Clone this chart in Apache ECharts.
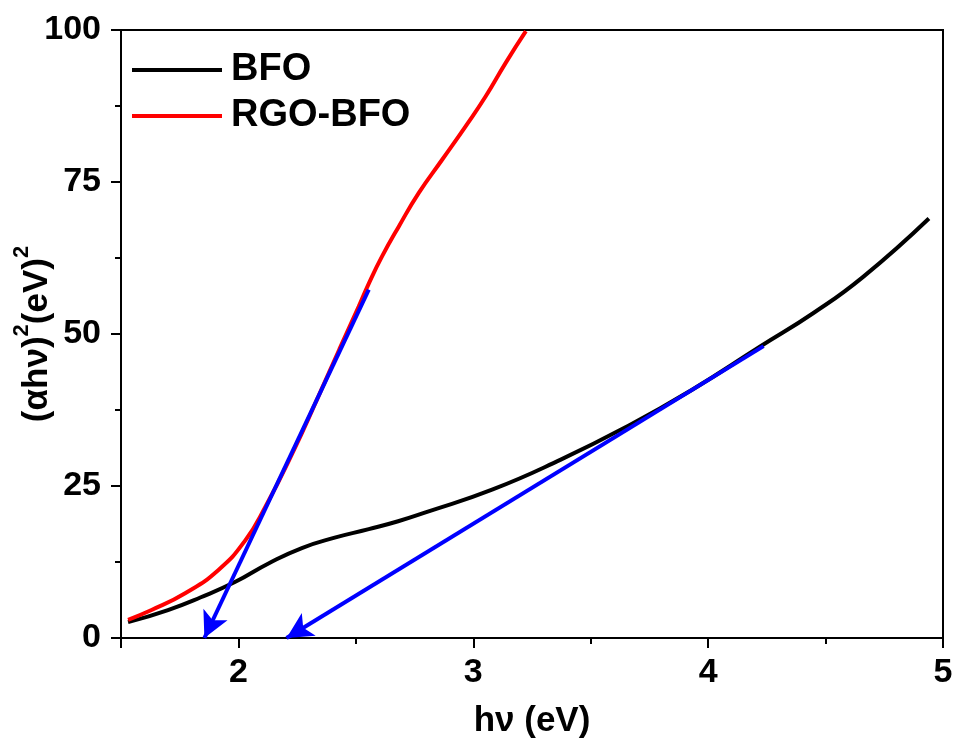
<!DOCTYPE html>
<html>
<head>
<meta charset="utf-8">
<script src="https://cdn.jsdelivr.net/npm/echarts@6/dist/echarts.min.js"></script>
<style>html,body{margin:0;padding:0;background:#fff}#c{width:957px;height:740px}</style>
</head>
<body>
<div id="c"></div>
<script>
// ---- data ----
const bfoX = [1.53, 1.70, 1.84, 1.985, 2.13, 2.27, 2.41, 2.555, 2.68, 2.80, 3.08, 3.37, 3.65, 3.93, 4.22, 4.45, 4.66, 4.94];
const bfoY = [2.6, 4.6, 6.7, 9.2, 12.3, 14.8, 16.5, 17.9, 19.2, 20.7, 24.4, 29.3, 34.7, 40.8, 47.9, 53.5, 59.4, 69.0];
const rgoX = [1.53, 1.63, 1.775, 1.915, 2.03, 2.115, 2.23, 2.34, 2.43, 2.512, 2.555, 2.612, 2.683, 2.768, 2.868, 2.968, 3.053, 3.138, 3.224];
const rgoY = [3.0, 4.6, 7.4, 11.2, 16.1, 21.6, 30.4, 39.7, 47.5, 54.5, 58.3, 62.8, 67.7, 73.2, 78.7, 84.2, 89.1, 94.6, 99.8];
// tangent arrows: [startX, startY, endX(tip), endY]
const arrowRGO = [2.555, 57.3, 1.855, 0];
const arrowBFO = [4.236, 48.0, 2.205, 0];
const seriesNames = ['BFO', 'RGO-BFO'];
const xTitle = 'hν (eV)';
const yTitleParts = ['(αhν)', '2', '(eV)', '2'];

const zip = (xs, ys) => xs.map((x, i) => [x, ys[i]]);
const font = 'Arial, "Liberation Sans", sans-serif';

const chart = echarts.init(document.getElementById('c'), null, {renderer: 'canvas'});
const common = {min: 1.5, max: 5, type: 'value', splitLine: {show: false}};
chart.setOption({
  animation: false,
  backgroundColor: '#fff',
  grid: {left: 121, right: 14, top: 30, bottom: 102, containLabel: false, outerBoundsMode: 'none',
    show: true, borderColor: '#000', borderWidth: 2, backgroundColor: 'transparent'},
  legend: {
    orient: 'vertical', left: 127, top: 46, itemWidth: 90, itemHeight: 4, itemGap: 8,
    icon: 'rect',
    data: seriesNames,
    textStyle: {fontFamily: font, fontWeight: 'bold', fontSize: 38, color: '#000', padding: [0, 0, 0, 4]}
  },
  xAxis: [
    Object.assign({}, common, {
      position: 'bottom', minInterval: 1, maxInterval: 1,
      name: xTitle, nameLocation: 'middle', nameGap: 66, nameMoveOverlap: false,
      nameTextStyle: {fontFamily: font, fontWeight: 'bold', fontSize: 35, color: '#000'},
      axisLine: {lineStyle: {color: '#000', width: 2}},
      axisTick: {inside: false, length: 10, lineStyle: {color: '#000', width: 2}},
      axisLabel: {margin: 18, fontFamily: font, fontWeight: 'bold', fontSize: 34, color: '#000',
        formatter: v => Number.isInteger(v) ? String(v) : ''}
    }),
    Object.assign({}, common, {
      position: 'bottom', interval: 0.5,
      axisLine: {show: false},
      axisTick: {inside: false, length: 6, lineStyle: {color: '#000', width: 2}},
      axisLabel: {show: false}
    })
  ],
  yAxis: {
    type: 'value', min: 0, max: 100, interval: 25,
    name: '{n|' + yTitleParts[0] + '}{s|' + yTitleParts[1] + '}{n|' + yTitleParts[2] + '}{s|' + yTitleParts[3] + '}',
    nameLocation: 'middle', nameGap: 66, nameMoveOverlap: false,
    nameTextStyle: {
      fontFamily: font, fontWeight: 'bold', fontSize: 35, color: '#000',
      rich: {
        n: {fontFamily: font, fontWeight: 'bold', fontSize: 35, color: '#000', lineHeight: 44, verticalAlign: 'bottom'},
        s: {fontFamily: font, fontWeight: 'bold', fontSize: 22, color: '#000', lineHeight: 44, verticalAlign: 'top'}
      }
    },
    splitLine: {show: false},
    axisLine: {lineStyle: {color: '#000', width: 2}},
    axisTick: {inside: false, length: 10, lineStyle: {color: '#000', width: 2}},
    minorTick: {show: true, splitNumber: 2, length: 6, lineStyle: {color: '#000', width: 2}},
    axisLabel: {margin: 20, fontFamily: font, fontWeight: 'bold', fontSize: 34, color: '#000'}
  },
  series: [
    {
      name: seriesNames[0], type: 'line', data: zip(bfoX, bfoY), smooth: 0.5,
      symbol: 'none', lineStyle: {color: '#000', width: 4}, itemStyle: {color: '#000'}, z: 2
    },
    {
      name: seriesNames[1], type: 'line', data: zip(rgoX, rgoY), smooth: 0.5,
      symbol: 'none', lineStyle: {color: '#ff0000', width: 4}, itemStyle: {color: '#ff0000'}, z: 2
    },
    {
      name: 'tangents', type: 'line', data: [], z: 5, silent: true,
      markLine: {
        silent: true, animation: false,
        symbol: ['none', 'arrow'], symbolSize: [20, 26],
        label: {show: false},
        lineStyle: {color: '#0000ff', width: 4, type: 'solid'},
        data: [
          [{coord: [arrowRGO[0], arrowRGO[1]]}, {coord: [arrowRGO[2], arrowRGO[3]]}],
          [{coord: [arrowBFO[0], arrowBFO[1]]}, {coord: [arrowBFO[2], arrowBFO[3]]}]
        ]
      }
    }
  ]
});
</script>
</body>
</html>
